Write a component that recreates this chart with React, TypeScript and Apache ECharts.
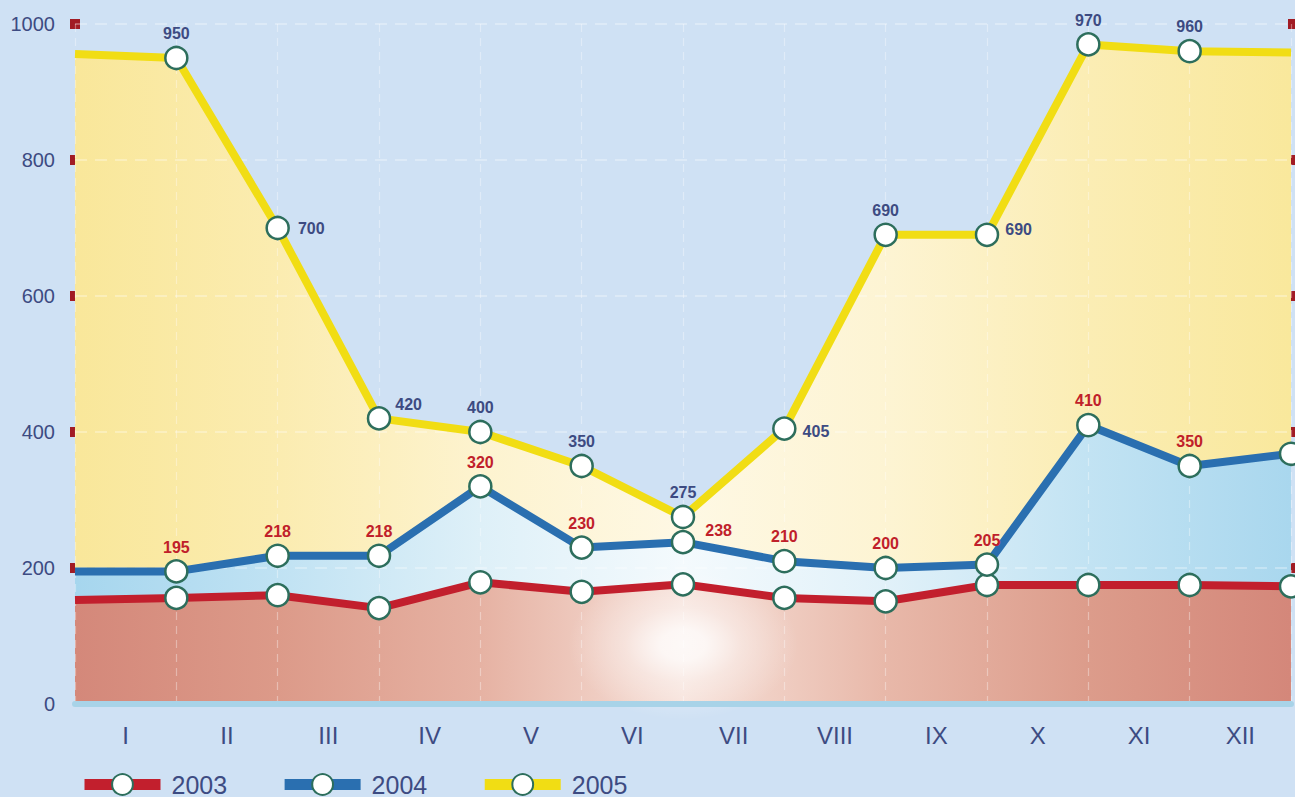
import React, { useEffect, useRef } from 'react';
import * as echarts from 'echarts';

const months = ['I', 'II', 'III', 'IV', 'V', 'VI', 'VII', 'VIII', 'IX', 'X', 'XI', 'XII'];
const boundaries = ['0', '1', '2', '3', '4', '5', '6', '7', '8', '9', '10', '11', '12'];
const y2003 = [153, 156, 160, 141, 179, 165, 176, 156, 151, 175, 175, 175, 173];
const y2004 = [195, 195, 218, 218, 320, 230, 238, 210, 200, 205, 410, 350, 368];
const y2005 = [956, 950, 700, 420, 400, 350, 275, 405, 690, 690, 970, 960, 958];
const yTicks = [200, 400, 600, 800, 1000];
const glowPoint = [[6, 87]];

// label placement (style only)
const labels2005: Record<number, { pos: string; off?: number[] }> = {
  1: { pos: 'top' }, 2: { pos: 'right', off: [4, 0] }, 3: { pos: 'right', off: [0, -14] },
  4: { pos: 'top' }, 5: { pos: 'top' }, 6: { pos: 'top' }, 7: { pos: 'right', off: [2, 3] },
  8: { pos: 'top' }, 9: { pos: 'right', off: [2, -5] }, 10: { pos: 'top' }, 11: { pos: 'top' },
};
const labels2004: Record<number, { pos: string; off?: number[] }> = {
  1: { pos: 'top' }, 2: { pos: 'top' }, 3: { pos: 'top' }, 4: { pos: 'top' }, 5: { pos: 'top' },
  6: { pos: 'right', off: [6, -12] }, 7: { pos: 'top' }, 8: { pos: 'top' }, 9: { pos: 'top' },
  10: { pos: 'top' }, 11: { pos: 'top' },
};

const FONT = 'Arial, "Liberation Sans", sans-serif';
const BG = '#cfe1f4';
const RED = '#c21f2d';
const BLUE = '#2a6fb0';
const YELLOW = '#f1dd14';
const RING = '#2d6e5c';
const NAVY = '#3d4b82';
const LABEL_RED = '#c0202a';

function buildData(vals: number[], lbl: Record<number, { pos: string; off?: number[] }>, hideLast: boolean, color: string) {
  return vals.map((v, i) => {
    const item: any = { value: v };
    if (i === 0 || (i === vals.length - 1 && hideLast)) item.symbol = 'none';
    const c = lbl[i];
    if (c) {
      item.label = { show: true, position: c.pos, offset: c.off || [0, 0], color, fontSize: 16, fontWeight: 'bold', fontFamily: FONT, distance: 4 };
    }
    return item;
  });
}

function hGrad(stops: string[]) {
  return new echarts.graphic.LinearGradient(0, 0, 1, 0, stops.map((c, i) => ({ offset: i / (stops.length - 1), color: c })));
}

export default function App() {
  const ref = useRef<HTMLDivElement>(null);
  useEffect(() => {
    const chart = echarts.init(ref.current!, undefined, { renderer: 'svg' });
    const areaBase = { type: 'line', symbol: 'none', lineStyle: { width: 0 }, silent: true, z: 1, xAxisIndex: 0, yAxisIndex: 0 };
    const lineBase = {
      type: 'line', symbol: 'circle', symbolSize: 22, z: 3, xAxisIndex: 0, yAxisIndex: 0,
      itemStyle: { color: '#ffffff', borderColor: RING, borderWidth: 2.5 },
      emphasis: { disabled: true },
    };
    const option: any = {
      animation: false,
      backgroundColor: BG,
      grid: { left: 75, right: 4, top: 24, bottom: 93, containLabel: false },
      legend: {
        data: ['2003', '2004', '2005'],
        left: 79, top: 772, padding: 0,
        itemWidth: 76, itemHeight: 26, itemGap: 52,
        lineStyle: { width: 11 },
        itemStyle: { color: '#ffffff', borderColor: RING, borderWidth: 2 },
        textStyle: { fontSize: 25, color: NAVY, fontFamily: FONT, padding: [0, 0, 0, 6] },
      },
      xAxis: [
        {
          type: 'category', data: boundaries, boundaryGap: false, position: 'bottom', z: 2, offset: 6,
          axisLine: { show: true, lineStyle: { color: '#a8d3e8', width: 6 } },
          axisTick: { show: false }, axisLabel: { show: false },
          splitLine: { show: true, interval: 0, lineStyle: { color: 'rgba(255,255,255,0.35)', type: [8, 6], width: 1.2 } },
        },
        {
          type: 'category', data: months, boundaryGap: true, position: 'bottom',
          axisLine: { show: false }, axisTick: { show: false }, splitLine: { show: false },
          axisLabel: { color: NAVY, fontSize: 24, fontFamily: FONT, margin: 19 },
        },
      ],
      yAxis: [
        {
          type: 'value', min: 0, max: 1000, interval: 200, position: 'left', z: 2,
          axisLine: { show: false }, axisTick: { show: false },
          axisLabel: { color: NAVY, fontSize: 20, fontFamily: FONT, margin: 20, formatter: (v: number) => String(v) },
          splitLine: { show: true, lineStyle: { color: 'rgba(255,255,255,0.4)', type: [12, 8], width: 1.5 } },
        },
        {
          type: 'value', min: 0, max: 1000, interval: 200, position: 'left', offset: -5,
          axisLine: { show: false }, axisLabel: { show: false }, splitLine: { show: false },
          axisTick: { show: true, length: 10, customValues: yTicks, lineStyle: { color: '#a11b24', width: 10 } },
        },
        {
          type: 'value', min: 0, max: 1000, interval: 200, position: 'right', offset: -3,
          axisLine: { show: false }, axisLabel: { show: false }, splitLine: { show: false },
          axisTick: { show: true, length: 10, customValues: yTicks, lineStyle: { color: '#a11b24', width: 10 } },
        },
      ],
      series: [
        { ...areaBase, name: 'a2005', data: y2005, areaStyle: { opacity: 1, color: hGrad(['#f9e79a', '#fbecb0', '#fdf3cf', '#fef8e4', '#fdf4d3', '#fbedb4', '#f9e89c']) } },
        { ...areaBase, name: 'a2004', data: y2004, areaStyle: { opacity: 1, color: hGrad(['#a6d6ee', '#c0e2f3', '#def0f8', '#f4fafd', '#e1f1f9', '#c2e3f3', '#a9d7ee']) } },
        { ...areaBase, name: 'a2003', data: y2003, areaStyle: { opacity: 1, color: hGrad(['#d4887a', '#dc9a89', '#e6b2a3', '#f6e0d8', '#e8b8a9', '#dc9c8b', '#d4877a']) } },
        {
          type: 'scatter', name: 'glow', data: glowPoint, silent: true, z: 1, xAxisIndex: 0, yAxisIndex: 0,
          symbol: 'circle', symbolSize: [230, 150],
          itemStyle: {
            color: new echarts.graphic.RadialGradient(0.5, 0.5, 0.5, [
              { offset: 0, color: 'rgba(255,255,255,1)' },
              { offset: 0.2, color: 'rgba(255,255,255,0.95)' },
              { offset: 0.5, color: 'rgba(255,255,255,0.45)' },
              { offset: 1, color: 'rgba(255,255,255,0)' },
            ]),
          },
        },
        { ...lineBase, name: '2003', data: buildData(y2003, {}, false, LABEL_RED), lineStyle: { color: RED, width: 8 } },
        { ...lineBase, name: '2004', data: buildData(y2004, labels2004, false, LABEL_RED), lineStyle: { color: BLUE, width: 8 } },
        { ...lineBase, name: '2005', data: buildData(y2005, labels2005, true, NAVY), lineStyle: { color: YELLOW, width: 8 } },
      ],
    };
    chart.setOption(option);
    return () => chart.dispose();
  }, []);
  return <div ref={ref} style={{ position: 'fixed', left: 0, top: 0, width: 1295, height: 797 }} />;
}
